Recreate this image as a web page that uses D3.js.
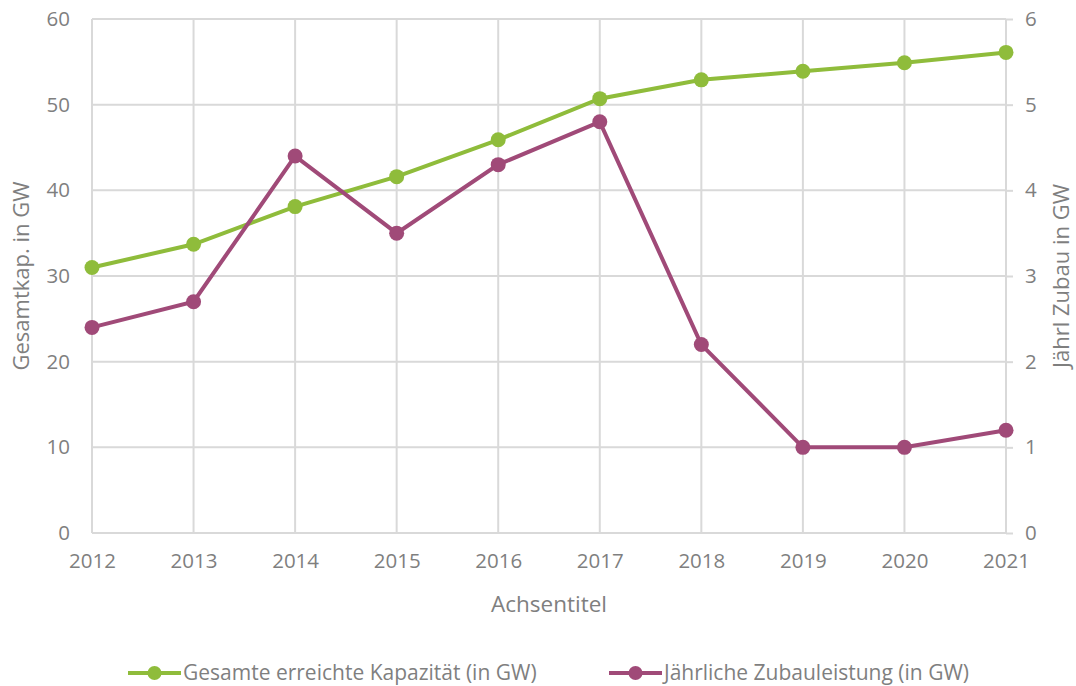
<!DOCTYPE html>
<html>
<head>
<meta charset="utf-8">
<script src="https://cdn.jsdelivr.net/npm/d3@7"></script>
<style>
  body { margin: 0; background: #fff; }
  svg text { font-family: "Open Sans", Lato, sans-serif; fill: #7f7f7f; }
</style>
</head>
<body>
<div id="chart"></div>
<script>
var years = [2012, 2013, 2014, 2015, 2016, 2017, 2018, 2019, 2020, 2021];
var gesamt = [31, 33.7, 38.1, 41.6, 45.9, 50.7, 52.9, 53.9, 54.9, 56.1];
var zubau = [2.4, 2.7, 4.4, 3.5, 4.3, 4.8, 2.2, 1.0, 1.0, 1.2];
var leftTicks = [0, 10, 20, 30, 40, 50, 60];
var rightTicks = [0, 1, 2, 3, 4, 5, 6];
var seriesNames = ["Gesamte erreichte Kapazität (in GW)", "Jährliche Zubauleistung (in GW)"];

var green = "#8fbc3b", purple = "#a04a78", grid = "#d9d9d9";

var W = 1076, H = 686;
var margin = { top: 19, right: 70, bottom: 153, left: 92 };
var width = W - margin.left - margin.right,
    height = H - margin.top - margin.bottom;

var svg = d3.select("#chart").append("svg")
    .attr("width", W).attr("height", H)
    .append("g")
    .attr("transform", "translate(" + margin.left + "," + margin.top + ")");

var x = d3.scaleLinear().domain([2012, 2021]).range([0, width]);
var yL = d3.scaleLinear().domain([0, 60]).range([height, 0]);
var yR = d3.scaleLinear().domain([0, 6]).range([height, 0]);

// horizontal grid
svg.selectAll("line.y-grid")
    .data(leftTicks)
    .enter().append("line")
    .attr("x1", 0).attr("x2", width)
    .attr("y1", function(d) { return yL(d); })
    .attr("y2", function(d) { return yL(d); })
    .style("stroke", grid).style("stroke-width", 2);

// vertical grid
svg.selectAll("line.x-grid")
    .data(years)
    .enter().append("line")
    .attr("x1", function(d) { return x(d); })
    .attr("x2", function(d) { return x(d); })
    .attr("y1", 0).attr("y2", height)
    .style("stroke", grid).style("stroke-width", 2);

// axes
var xAxis = svg.append("g")
    .attr("transform", "translate(0," + height + ")")
    .call(d3.axisBottom(x).tickValues(years).tickFormat(d3.format("d")).tickSize(0).tickPadding(20));
var leftAxis = svg.append("g")
    .call(d3.axisLeft(yL).tickValues(leftTicks).tickSize(0).tickPadding(22));
var rightAxis = svg.append("g")
    .attr("transform", "translate(" + width + ",0)")
    .call(d3.axisRight(yR).tickValues(rightTicks).tickFormat(d3.format("d")).tickSize(7).tickPadding(12));

[xAxis, leftAxis, rightAxis].forEach(function(a) {
    a.select(".domain").remove();
    a.selectAll("text").style("font-size", "20.5px").attr("fill", "#7f7f7f");
    a.selectAll("line").style("stroke", grid).style("stroke-width", 2);
});
svg.append("line").attr("x1", 0).attr("x2", width).attr("y1", height).attr("y2", height)
    .style("stroke", grid).style("stroke-width", 2);

// lines
var lineL = d3.line().x(function(d, i) { return x(years[i]); }).y(function(d) { return yL(d); });
var lineR = d3.line().x(function(d, i) { return x(years[i]); }).y(function(d) { return yR(d); });

svg.append("path").datum(gesamt).attr("d", lineL)
    .style("fill", "none").style("stroke", green).style("stroke-width", 4);
svg.selectAll("circle.g").data(gesamt).enter().append("circle")
    .attr("cx", function(d, i) { return x(years[i]); })
    .attr("cy", function(d) { return yL(d); })
    .attr("r", 7.5).style("fill", green);

svg.append("path").datum(zubau).attr("d", lineR)
    .style("fill", "none").style("stroke", purple).style("stroke-width", 4);
svg.selectAll("circle.p").data(zubau).enter().append("circle")
    .attr("cx", function(d, i) { return x(years[i]); })
    .attr("cy", function(d) { return yR(d); })
    .attr("r", 7.5).style("fill", purple);

// axis titles
svg.append("text")
    .attr("x", width / 2).attr("y", height + 79)
    .style("text-anchor", "middle").style("font-size", "22.5px")
    .text("Achsentitel");
svg.append("text")
    .attr("transform", "rotate(-90)")
    .attr("x", -height / 2).attr("y", -margin.left + 29)
    .style("text-anchor", "middle").style("font-size", "22px")
    .text("Gesamtkap. in GW");
svg.append("text")
    .attr("transform", "rotate(-90)")
    .attr("x", -height / 2).attr("y", width + 63)
    .style("text-anchor", "middle").style("font-size", "22px")
    .text("Jährl Zubau in GW");

// legend
var legend = d3.select("svg").append("g").attr("transform", "translate(0,673)");
var legendX = [128, 609];
var legendColors = [green, purple];
seriesNames.forEach(function(name, i) {
    var g = legend.append("g").attr("transform", "translate(" + legendX[i] + ",0)");
    g.append("line").attr("x1", 0).attr("x2", 53).attr("y1", 0).attr("y2", 0)
        .style("stroke", legendColors[i]).style("stroke-width", 4);
    g.append("circle").attr("cx", 26.5).attr("cy", 0).attr("r", 7).style("fill", legendColors[i]);
    g.append("text").attr("x", 55).attr("y", 6.5).style("font-size", "21px").text(name);
});
</script>
</body>
</html>
